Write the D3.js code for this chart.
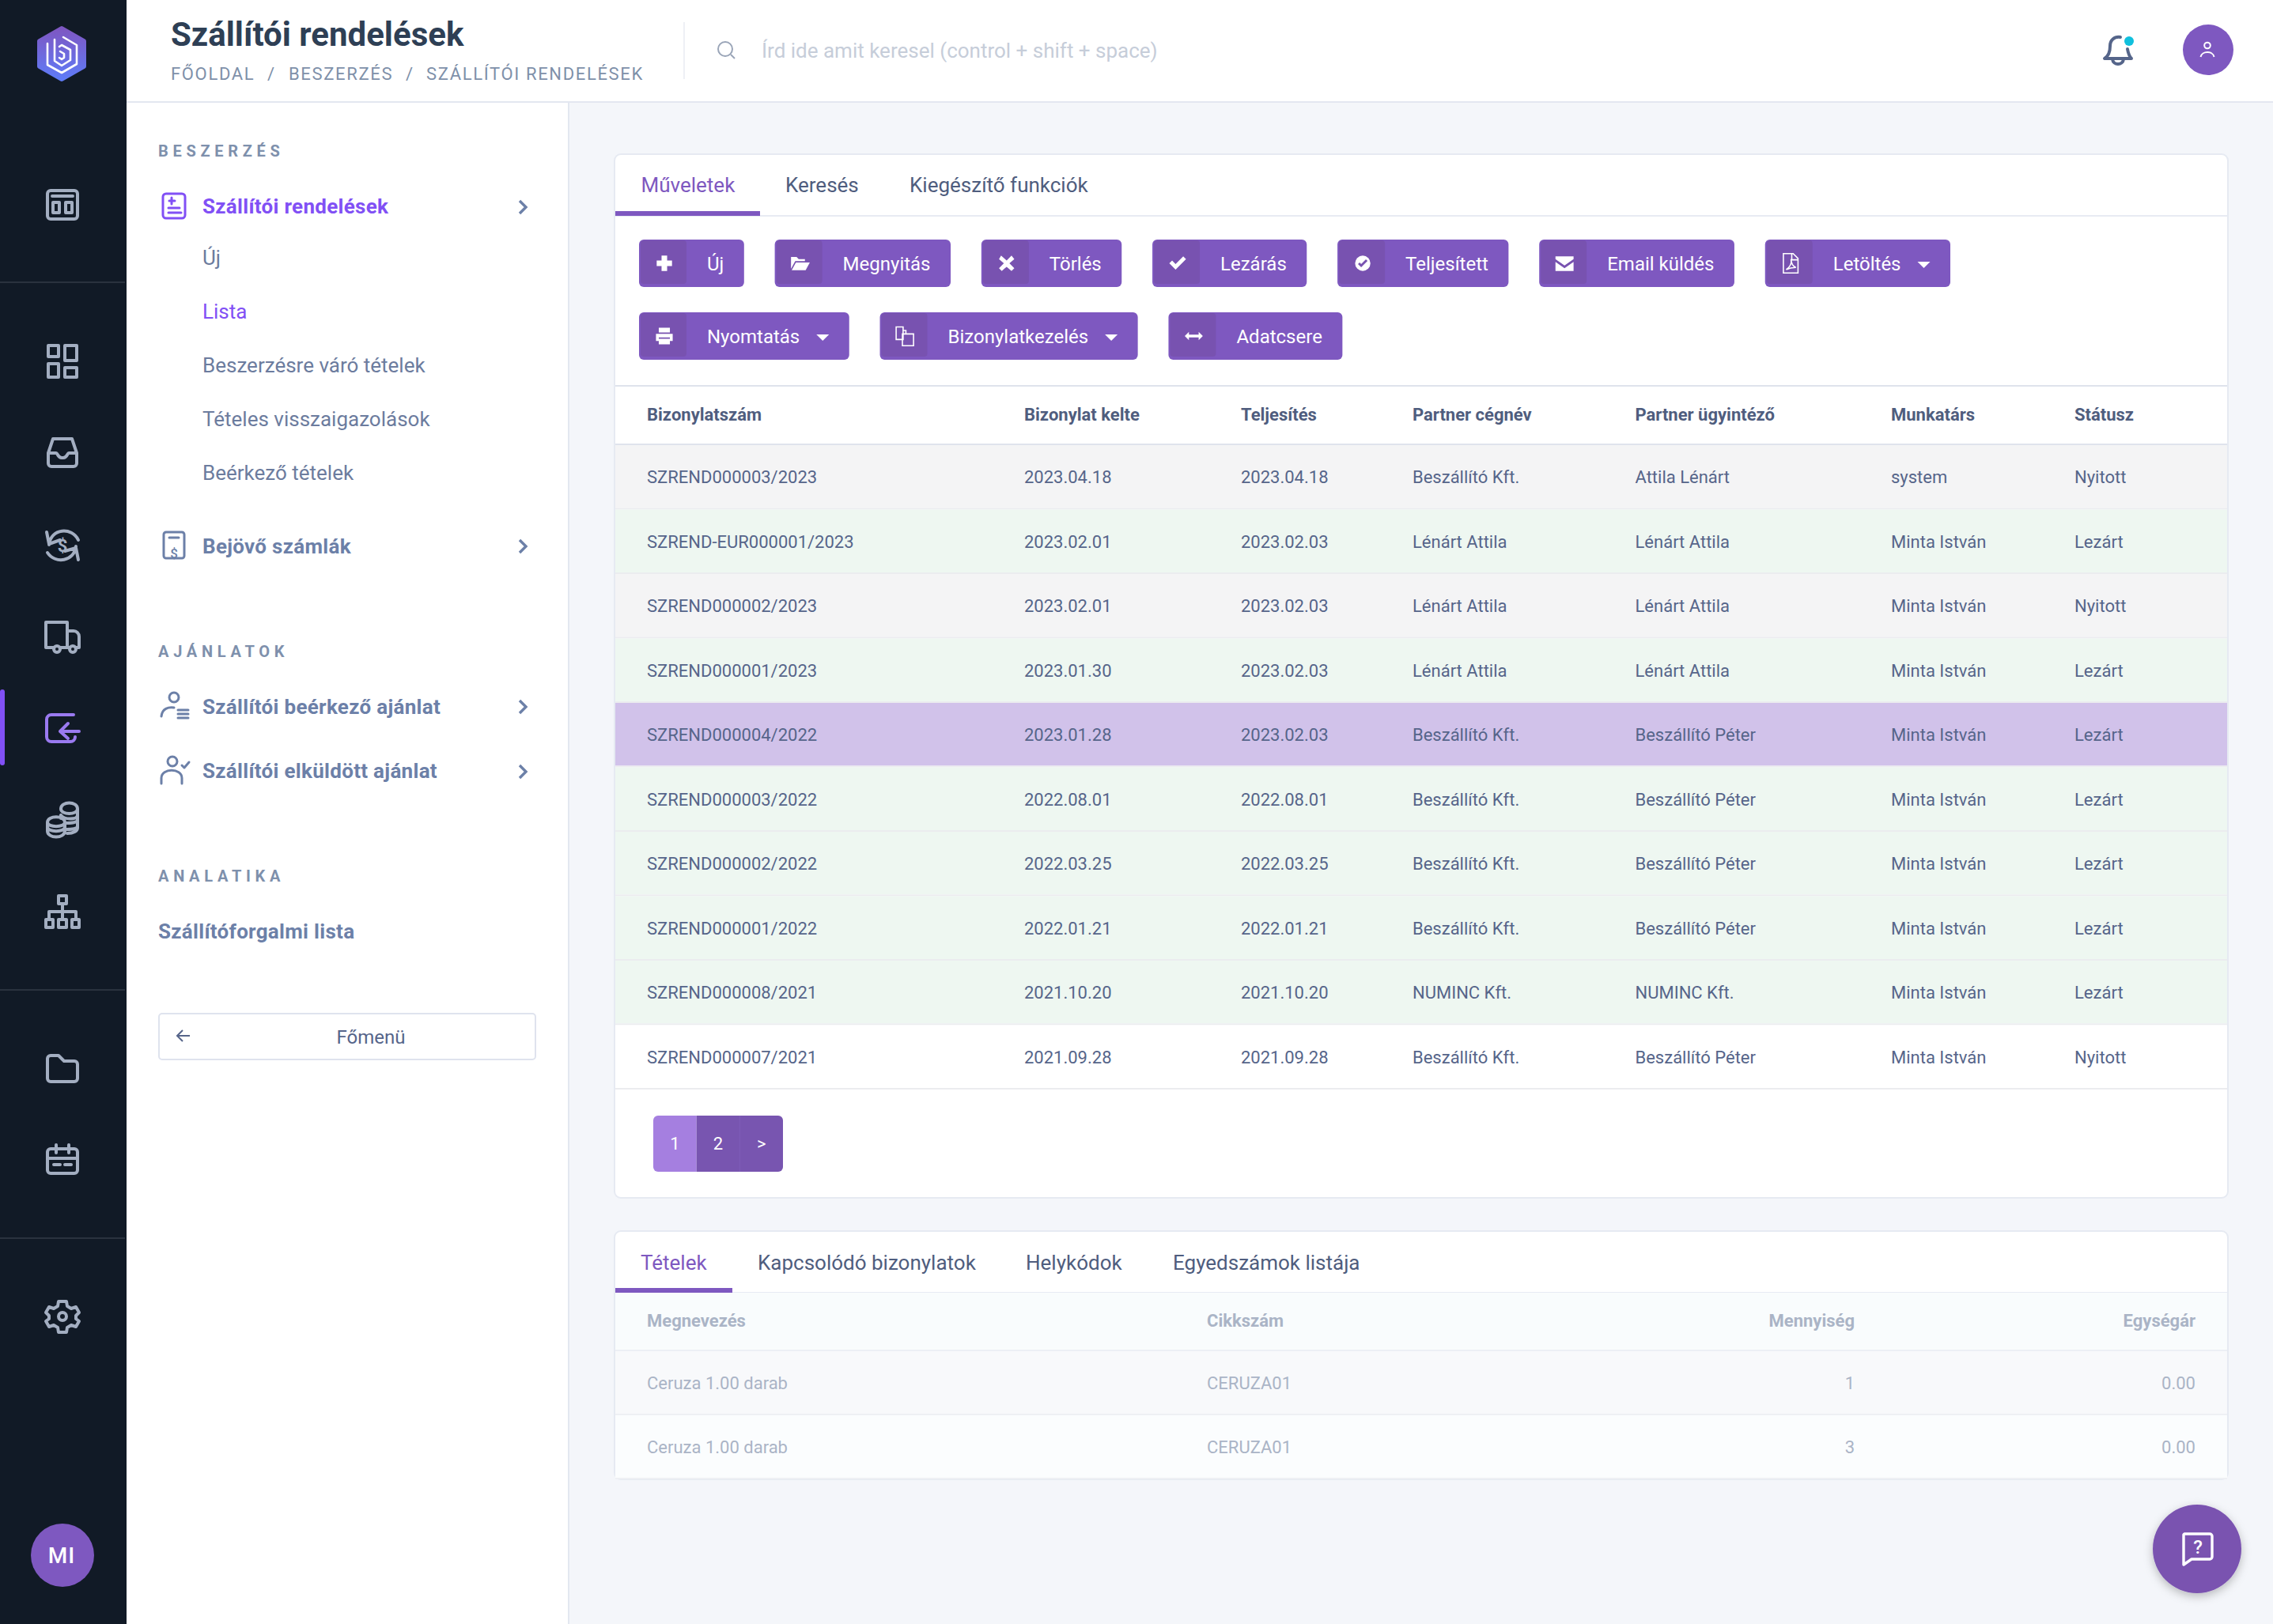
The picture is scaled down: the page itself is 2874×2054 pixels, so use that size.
<!DOCTYPE html>
<meta charset="utf-8">
<script src="https://d3js.org/d3.v7.min.js"></script>
<style>
  html, body { margin: 0; padding: 0; background: #f4f6fa; }
  svg { display: block; font-family: Roboto, sans-serif; }
</style>
<div id="my_dataviz"></div>
<script>

// main table
var tableHeaders = ["Bizonylatszám", "Bizonylat kelte", "Teljesítés", "Partner cégnév", "Partner ügyintéző", "Munkatárs", "Státusz"];
var orderNumbers = ["SZREND000003/2023", "SZREND-EUR000001/2023", "SZREND000002/2023", "SZREND000001/2023", "SZREND000004/2022", "SZREND000003/2022", "SZREND000002/2022", "SZREND000001/2022", "SZREND000008/2021", "SZREND000007/2021"];
var issueDates = ["2023.04.18", "2023.02.01", "2023.02.01", "2023.01.30", "2023.01.28", "2022.08.01", "2022.03.25", "2022.01.21", "2021.10.20", "2021.09.28"];
var dueDates = ["2023.04.18", "2023.02.03", "2023.02.03", "2023.02.03", "2023.02.03", "2022.08.01", "2022.03.25", "2022.01.21", "2021.10.20", "2021.09.28"];
var partners = ["Beszállító Kft.", "Lénárt Attila", "Lénárt Attila", "Lénárt Attila", "Beszállító Kft.", "Beszállító Kft.", "Beszállító Kft.", "Beszállító Kft.", "NUMINC Kft.", "Beszállító Kft."];
var contacts = ["Attila Lénárt", "Lénárt Attila", "Lénárt Attila", "Lénárt Attila", "Beszállító Péter", "Beszállító Péter", "Beszállító Péter", "Beszállító Péter", "NUMINC Kft.", "Beszállító Péter"];
var staff = ["system", "Minta István", "Minta István", "Minta István", "Minta István", "Minta István", "Minta István", "Minta István", "Minta István", "Minta István"];
var statuses = ["Nyitott", "Lezárt", "Nyitott", "Lezárt", "Lezárt", "Lezárt", "Lezárt", "Lezárt", "Lezárt", "Nyitott"];
var rowKinds = ["open", "closed", "open", "closed", "selected", "closed", "closed", "closed", "closed", "plain"];

// items table
var itemHeaders = ["Megnevezés", "Cikkszám", "Mennyiség", "Egységár"];
var itemNames = ["Ceruza 1.00 darab", "Ceruza 1.00 darab"];
var itemCodes = ["CERUZA01", "CERUZA01"];
var itemQuantities = ["1", "3"];
var itemPrices = ["0.00", "0.00"];

// tabs, buttons, pager
var topTabs = ["Műveletek", "Keresés", "Kiegészítő funkciók"];
var bottomTabs = ["Tételek", "Kapcsolódó bizonylatok", "Helykódok", "Egyedszámok listája"];
var buttonRow1 = ["Új", "Megnyitás", "Törlés", "Lezárás", "Teljesített", "Email küldés", "Letöltés"];
var buttonRow2 = ["Nyomtatás", "Bizonylatkezelés", "Adatcsere"];
var dropdownButtons = ["Letöltés", "Nyomtatás", "Bizonylatkezelés"];
var pagerLabels = ["1", "2", ">"];

// side menu
var crumbs = ["FŐOLDAL", "/", "BESZERZÉS", "/", "SZÁLLÍTÓI RENDELÉSEK"];
var subItems = ["Új", "Lista", "Beszerzésre váró tételek", "Tételes visszaigazolások", "Beérkező tételek"];
var railIcons = ["layout", "grid", "inbox", "refresh", "truck", "login", "coins", "sitemap", "folder", "calendar", "gear"];

// colours
var purple = "#7e58c0", purpleDark = "#7852b0", purpleLight = "#a57fe0", violet = "#8150f5";
var railBg = "#111a26", railIcon = "#a3aec1", line = "#e3e7f0";
var textMain = "#56658a", textMenu = "#6c7c9e", textMenuBold = "#6c80a8", textSection = "#7e90ac", textFaded = "#aab4c6";

var W = 2874, H = 2054;
var svg = d3.select("#my_dataviz").append("svg").attr("width", W).attr("height", H);

function rect(g, x, y, w, h, fill, r) {
  return g.append("rect").attr("x", x).attr("y", y).attr("width", w).attr("height", h).attr("fill", fill).attr("rx", r || 0);
}
function label(g, x, y, s, size, fill, weight, anchor, spacing) {
  return g.append("text").attr("x", x).attr("y", y).text(s)
    .attr("font-size", size).attr("fill", fill).attr("font-weight", weight || 400)
    .attr("text-anchor", anchor || "start").attr("letter-spacing", spacing || null);
}

// page parts
rect(svg, 0, 0, W, H, "#f4f6fa");
rect(svg, 160, 0, W - 160, 128, "#ffffff");
rect(svg, 160, 128, W - 160, 2, line);
rect(svg, 160, 130, 558, H - 130, "#ffffff");
rect(svg, 718, 130, 2, H - 130, line);
rect(svg, 0, 0, 160, H, railBg);

// header
label(svg, 216, 58, "Szállítói rendelések", 42, "#2e3f55", 700);
var crumbX = d3.scaleOrdinal().domain(d3.range(5)).range([216, 338, 365, 513, 539]);
crumbs.forEach(function (c, i) { label(svg, crumbX(i), 101, c, 22, "#7e90a9", 400, "start", 1.65); });
rect(svg, 864, 28, 2, 72, "#eef0f5");
svg.append("g").attr("transform", "translate(918,63)").attr("fill", "none").attr("stroke", "#9aa5b8").attr("stroke-width", 2)
  .call(function (g) {
    g.append("circle").attr("cx", -1).attr("cy", -1).attr("r", 9);
    g.append("path").attr("d", "M6,6L11,11");
  });
label(svg, 963, 73, "Írd ide amit keresel (control + shift + space)", 26, "#c6cdd9");
var bell = svg.append("g").attr("transform", "translate(2678,64)").attr("fill", "none").attr("stroke", "#55658a").attr("stroke-width", 4).attr("stroke-linejoin", "round").attr("stroke-linecap", "round");
bell.append("path").attr("d", "M3,-17C-5,-18 -10,-13 -10,-6C-10,2 -12,7 -17,10H17C14,7 13,4 12,-2");
bell.append("path").attr("d", "M-7,11C-6,19 6,19 7,11");
svg.append("circle").attr("cx", 2692).attr("cy", 52).attr("r", 6).attr("fill", "#10c0dd");
svg.append("circle").attr("cx", 2792).attr("cy", 63).attr("r", 32).attr("fill", purple);
var userIcon = svg.append("g").attr("transform", "translate(2791,63)").attr("fill", "none").attr("stroke", "#ffffff").attr("stroke-width", 2);
userIcon.append("circle").attr("cy", -5.5).attr("r", 3.8);
userIcon.append("path").attr("d", "M-8.5,9C-7,1 7,1 8.5,9");

// logo
var defs = svg.append("defs");
var logoGrad = defs.append("linearGradient").attr("id", "logoGrad").attr("x1", 0).attr("y1", 0).attr("x2", 0).attr("y2", 1);
logoGrad.append("stop").attr("offset", "0%").attr("stop-color", "#7e57c2");
logoGrad.append("stop").attr("offset", "100%").attr("stop-color", "#5f7bf7");
var logo = svg.append("g").attr("transform", "translate(78,68)");
logo.append("path").attr("d", "M0,-32L28,-16L28,16L0,32L-28,16L-28,-16Z").attr("fill", "url(#logoGrad)").attr("stroke", "url(#logoGrad)").attr("stroke-width", 6).attr("stroke-linejoin", "round");
logo.append("path").attr("d", "M-9,-18L-9,9L0,15L11,8L11,-5L0,-11L-3,-9 M-18,-13L-18,14L0,24L19,13L19,-11L2,-21 M-2,-3L3,0L3,5L0,7L-3,5")
  .attr("fill", "none").attr("stroke", "#ffffff").attr("stroke-width", 2.6).attr("stroke-linejoin", "round").attr("stroke-linecap", "round");

// rail icons
var iconY = d3.scaleOrdinal().domain(railIcons).range([259, 457, 573, 690, 805, 921, 1037, 1153, 1352, 1467, 1665]);
var iconPaths = {
  layout: "M-15,-18H15A4,4 0 0 1 19,-14V14A4,4 0 0 1 15,18H-15A4,4 0 0 1 -19,14V-14A4,4 0 0 1 -15,-18Z M-13,-11H13 M-12,-3H-4V10H-12Z M4,-3H12V10H4Z",
  grid: "M-18,-20H-5V-6H-18Z M3,-20H18V-1H3Z M-18,3H-5V20H-18Z M3,8H18V20H3Z",
  inbox: "M-12,-18H12L18,0V13A4,4 0 0 1 14,17H-14A4,4 0 0 1 -18,13V0Z M-18,0H-8C-6,0 -6,6 -1,6H1C6,6 6,0 8,0H18",
  refresh: "M-17,-1C-15,-22 12,-24 20,-7 M-20,-17L-17,-2L-3,-7 M17,1C15,20 -9,24 -19,9 M20,18L17,3L3,7",
  truck: "M-11,14H-21V-18H6V14H-3 M6,-7H14A7,7 0 0 1 21,0V14H17 M6,14H9 M-3,16A4,4 0 1 1 -11,16A4,4 0 1 1 -3,16 M17,16A4,4 0 1 1 9,16A4,4 0 1 1 17,16",
  login: "M14,-17H-14A6,6 0 0 0 -20,-11V11A6,6 0 0 0 -14,17H10A6,6 0 0 0 16,11 M21,4H-2 M7,-6L-3,4L7,13",
  coins: "M-2,-14C-2,-24 19,-24 19,-14V10C19,14 14,17 6,17 M-2,-14C-2,-6 19,-6 19,-14 M-2,-6V-2 M-2,-6C2,0 19,0 19,-6 M5,4C12,4 19,3 19,0 M5,12C12,12 19,11 19,8 M-19,3C-19,-6 3,-6 3,3V14C3,24 -19,24 -19,14Z M-19,3C-19,10 3,10 3,3 M-19,9C-19,16 3,16 3,9",
  sitemap: "M-5,-20H5V-10H-5Z M0,-10V10 M-17,0H17V10 M-17,0V10 M-21,10H-12V20H-21Z M-5,10H5V20H-5Z M12,10H21V20H12Z",
  folder: "M-15,-17H-5L2,-10H15A4,4 0 0 1 19,-6V12A4,4 0 0 1 15,16H-15A4,4 0 0 1 -19,12V-13A4,4 0 0 1 -15,-17Z",
  calendar: "M-15,-14H15A4,4 0 0 1 19,-10V13A4,4 0 0 1 15,17H-15A4,4 0 0 1 -19,13V-10A4,4 0 0 1 -15,-14Z M-19,-2H19 M-8,-19V-9 M8,-19V-9 M-11,6H-3 M3,6H11",
  gear: "M-5,-19H5L6,-13L11,-10L17,-12L21,-5L17,-1V3L21,6L17,13L11,11L6,14L5,20H-5L-6,14L-11,11L-17,13L-21,6L-17,3V-1L-21,-5L-17,-12L-11,-10L-6,-13Z M5,0A5,5 0 1 1 -5,0A5,5 0 1 1 5,0Z"
};
svg.append("g").selectAll("path").data(railIcons).enter().append("path")
  .attr("transform", function (d) { return "translate(79," + iconY(d) + ")"; })
  .attr("d", function (d) { return iconPaths[d]; })
  .attr("fill", "none")
  .attr("stroke", function (d) { return d === "login" ? "#9a7af0" : railIcon; })
  .attr("stroke-width", 4).attr("stroke-linejoin", "round").attr("stroke-linecap", "round");
label(svg, 79, 698, "$", 22, railIcon, 700, "middle");
[356, 1251, 1565].forEach(function (y) { rect(svg, 0, y, 158, 2, "#2a323e"); });
rect(svg, 0, 872, 6, 96, violet, 3);
svg.append("circle").attr("cx", 79).attr("cy", 1967).attr("r", 40).attr("fill", purple);
label(svg, 78, 1977, "MI", 28, "#ffffff", 500, "middle", 1);

// side menu
function chevron(y) {
  svg.append("path").attr("d", "M657," + (y - 8) + "L665," + y + "L657," + (y + 8))
    .attr("fill", "none").attr("stroke", textMenuBold).attr("stroke-width", 3.4);
}
function sideIcon(y, d, color) {
  svg.append("path").attr("transform", "translate(220," + y + ")").attr("d", d)
    .attr("fill", "none").attr("stroke", color).attr("stroke-width", 3).attr("stroke-linejoin", "round").attr("stroke-linecap", "round");
}
label(svg, 200, 198, "BESZERZÉS", 20, textSection, 700, "start", 5.7);
label(svg, 200, 831, "AJÁNLATOK", 20, textSection, 700, "start", 5.7);
label(svg, 200, 1115, "ANALATIKA", 20, textSection, 700, "start", 5.7);
label(svg, 256, 270, "Szállítói rendelések", 26, violet, 700, "start", 0.3);
sideIcon(260, "M-10,-15H10A4,4 0 0 1 14,-11V12A4,4 0 0 1 10,16H-10A4,4 0 0 1 -14,12V-11A4,4 0 0 1 -10,-15Z M-6,-6H1 M-3,-10V-2 M-7,3H7 M-7,9H9", violet);
var subY = d3.scaleBand().domain(d3.range(subItems.length)).range([326, 666]);
subItems.forEach(function (s, i) { label(svg, 256, subY(i) + 9, s, 26, s === "Lista" ? violet : textMenu); });
label(svg, 256, 700, "Bejövő számlák", 26, textMenuBold, 700, "start", 0.3);
sideIcon(689, "M-10,-16H10A3,3 0 0 1 13,-13V14A3,3 0 0 1 10,17H-10A3,3 0 0 1 -13,14V-13A3,3 0 0 1 -10,-16Z M-6,-9H6", textMenuBold);
label(svg, 220, 706, "$", 17, textMenuBold, 500, "middle");
label(svg, 256, 903, "Szállítói beérkező ajánlat", 26, textMenuBold, 700, "start", 0.3);
sideIcon(893, "M6,-11A6,6 0 1 1 -6,-11A6,6 0 1 1 6,-11 M-16,13C-15,3 -7,1 0,2 M5,5H18 M5,10H18 M5,15H18", textMenuBold);
label(svg, 256, 984, "Szállítói elküldött ajánlat", 26, textMenuBold, 700, "start", 0.3);
sideIcon(975, "M4,-12A6,6 0 1 1 -8,-12A6,6 0 1 1 4,-12 M-16,16V9C-16,-4 10,-4 10,9V16 M10,-7L13,-4L19,-11", textMenuBold);
label(svg, 200, 1187, "Szállítóforgalmi lista", 26, textMenuBold, 700, "start", 0.3);
[262, 691, 894, 976].forEach(chevron);
rect(svg, 201, 1282, 476, 58, "#ffffff", 4).attr("stroke", "#dfe3ee").attr("stroke-width", 2);
label(svg, 469, 1320, "Főmenü", 24, textMain, 400, "middle");
svg.append("path").attr("d", "M240,1310H224M231,1303L224,1310L231,1317").attr("fill", "none").attr("stroke", textMain).attr("stroke-width", 2);

// cards
function card(y, h) {
  rect(svg, 777, y, 2040, h, "#ffffff", 8).attr("stroke", "#e6eaf2").attr("stroke-width", 2);
}
card(195, 1320);
card(1557, 314);

function tabs(names, xs, baseline, lineY, activeW) {
  var tx = d3.scaleOrdinal().domain(names).range(xs);
  rect(svg, 778, lineY, 2038, 2, "#e8ebf3");
  rect(svg, 778, lineY - 5, activeW, 6, purple);
  names.forEach(function (n, i) { label(svg, tx(n), baseline, n, 26, i === 0 ? purple : "#4f5d7e"); });
}
tabs(topTabs, [810.5, 993, 1150], 243, 272, 183);
tabs(bottomTabs, [810, 958, 1297, 1483], 1606, 1634, 148);

// button glyphs, white on the darker panel
var glyphs = {
  "Új": "M-4,-11H4V-4H11V4H4V11H-4V4H-11V-4H-4Z",
  "Megnyitás": "M-13,-9H-5L-2,-6H7V-3H-7L-13,8Z M-6,-1H14L8,10H-12Z",
  "Törlés": "M-8,-11L0,-4L7,-11L11,-6L4,0L11,7L7,11L0,5L-7,11L-11,7L-4,0L-11,-6Z",
  "Lezárás": "M-12,0L-8,-4L-3,1L8,-10L12,-6L-3,9Z",
  "Teljesített": "M11,0A11,11 0 1 1 -11,0A11,11 0 1 1 11,0Z",
  "Email küldés": "M-13,-10H13V-6L0,3L-13,-6Z M-13,-2L0,7L13,-2V11H-13Z",
  "Letöltés": "M-10,-14H4L11,-7V14H-10Z M2,-14V-5H11 M-6,9C0,5 2,-1 1,-6C1,0 4,5 8,6C3,6 -2,7 -6,9Z",
  "Nyomtatás": "M-8,-12H8V-5H-8Z M-12,-3H12V7H8V2H-8V7H-12Z M-8,4H8V12H-8Z",
  "Bizonylatkezelés": "M-13,-13H-3V5H-13Z M-3,-8H1V-4 M-4,-3H12V14H-4Z",
  "Adatcsere": "M-13,0L-7,-6V-2H7V-6L13,0L7,6V2H-7V6Z"
};
var outlineGlyphs = ["Letöltés", "Bizonylatkezelés"];

function buttons(names, y) {
  var x = 808;
  names.forEach(function (n) {
    var g = svg.append("g").attr("transform", "translate(" + x + "," + y + ")");
    var base = rect(g, 0, 0, 100, 60, purple, 6);
    rect(g, 2, 1, 58, 55, purpleDark, 4);
    var outline = outlineGlyphs.indexOf(n) >= 0;
    g.append("path").attr("transform", "translate(32,30) scale(0.88)").attr("d", glyphs[n])
      .attr("fill", outline ? "none" : "#ffffff")
      .attr("stroke", outline ? "#ffffff" : "none").attr("stroke-width", 1.8);
    if (n === "Teljesített") {
      g.append("path").attr("transform", "translate(32,30)").attr("d", "M-5,0L-2,3L5,-4").attr("fill", "none").attr("stroke", purpleDark).attr("stroke-width", 3);
    }
    var t = label(g, 86, 39, n, 24, "#ffffff");
    var tw = t.node().getComputedTextLength();
    var w = 86 + tw + 25.5;
    if (dropdownButtons.indexOf(n) >= 0) {
      // caret sits after the text, widens the button
      g.append("path").attr("d", "M" + (86 + tw + 21) + ",28h16l-8,8Z").attr("fill", "#ffffff");
      w = 86 + tw + 62.5;
    }
    base.attr("width", w);
    x += w + 38.8;
  });
}
buttons(buttonRow1, 303);
buttons(buttonRow2, 395);

// main table
var colX = d3.scaleOrdinal().domain(tableHeaders).range([818, 1295, 1569, 1786, 2067.5, 2391, 2623]);
var rowY = d3.scaleBand().domain(d3.range(orderNumbers.length)).range([563, 1378]);
var rowFill = d3.scaleOrdinal().domain(["open", "closed", "selected", "plain"]).range(["#f4f4f5", "#eef7f1", "#d1c2ea", "#ffffff"]);
rect(svg, 778, 487, 2038, 2, "#dfe3ec");
rect(svg, 778, 561, 2038, 2, "#dfe3ec");
tableHeaders.forEach(function (h) { label(svg, colX(h), 532, h, 22, "#4f5d7e", 700); });
var columns = [orderNumbers, issueDates, dueDates, partners, contacts, staff, statuses];
var rows = svg.append("g").selectAll("g").data(d3.range(orderNumbers.length)).enter().append("g")
  .attr("transform", function (i) { return "translate(0," + rowY(i) + ")"; });
rows.append("rect").attr("x", 778).attr("width", 2038).attr("height", rowY.bandwidth() - 2)
  .attr("fill", function (i) { return rowFill(rowKinds[i]); });
rows.append("rect").attr("x", 778).attr("y", rowY.bandwidth() - 2).attr("width", 2038).attr("height", 2).attr("fill", "#ebecef");
columns.forEach(function (col, c) {
  rows.append("text").attr("x", colX(tableHeaders[c])).attr("y", 48)
    .attr("font-size", 22).attr("fill", textMain)
    .text(function (i) { return col[i]; });
});

// pager
var pageX = d3.scaleBand().domain(pagerLabels).range([826, 990]);
defs.append("clipPath").attr("id", "pagerClip").append("rect")
  .attr("x", 826).attr("y", 1411).attr("width", 164).attr("height", 71).attr("rx", 6);
var pager = svg.append("g").attr("clip-path", "url(#pagerClip)");
pagerLabels.forEach(function (p, i) {
  rect(pager, pageX(p), 1411, pageX.bandwidth(), 71, i === 0 ? purpleLight : "#7855b0", 0);
});
rect(pager, 935, 1411, 1, 71, "#7e5cb8");
pagerLabels.forEach(function (p) {
  label(pager, pageX(p) + pageX.bandwidth() / 2, 1454, p, 22, "#ffffff", 400, "middle");
});

// items table
var itemX = d3.scaleOrdinal().domain(itemHeaders).range([818, 1526, 2345, 2776]);
var itemAnchor = d3.scaleOrdinal().domain(itemHeaders).range(["start", "start", "end", "end"]);
var itemY = d3.scaleBand().domain(d3.range(itemNames.length)).range([1709, 1871]);
rect(svg, 778, 1635, 2038, 74, "#f9fcfd");
rect(svg, 778, 1707, 2038, 2, "#eceff5");
itemHeaders.forEach(function (h) { label(svg, itemX(h), 1678, h, 22, textFaded, 700, itemAnchor(h)); });
var itemCols = [itemNames, itemCodes, itemQuantities, itemPrices];
var itemRows = svg.append("g").selectAll("g").data(d3.range(itemNames.length)).enter().append("g")
  .attr("transform", function (i) { return "translate(0," + itemY(i) + ")"; });
itemRows.append("rect").attr("x", 778).attr("width", 2038).attr("height", itemY.bandwidth() - 1)
  .attr("fill", function (i) { return i === 0 ? "#f8f9fb" : "#fbfdfe"; });
itemRows.append("rect").attr("x", 778).attr("y", itemY.bandwidth() - 2).attr("width", 2038).attr("height", 2).attr("fill", "#eef0f4");
itemCols.forEach(function (col, c) {
  var h = itemHeaders[c];
  itemRows.append("text").attr("x", itemX(h)).attr("y", 48).attr("text-anchor", itemAnchor(h))
    .attr("font-size", 22).attr("fill", textFaded)
    .text(function (i) { return col[i]; });
});

// help button
var shadow = defs.append("filter").attr("id", "soft").attr("x", "-30%").attr("y", "-30%").attr("width", "160%").attr("height", "160%");
shadow.append("feDropShadow").attr("dx", 0).attr("dy", 4).attr("stdDeviation", 6).attr("flood-color", "#000000").attr("flood-opacity", 0.25);
svg.append("circle").attr("cx", 2778).attr("cy", 1959).attr("r", 56).attr("fill", "#7a52b0").attr("filter", "url(#soft)");
svg.append("path").attr("d", "M2762,1940H2794A3,3 0 0 1 2797,1943V1969A3,3 0 0 1 2794,1972H2771L2761,1979V1941Z")
  .attr("fill", "none").attr("stroke", "#ffffff").attr("stroke-width", 3.4).attr("stroke-linejoin", "round");
label(svg, 2779, 1965, "?", 24, "#ffffff", 500, "middle");

</script>
